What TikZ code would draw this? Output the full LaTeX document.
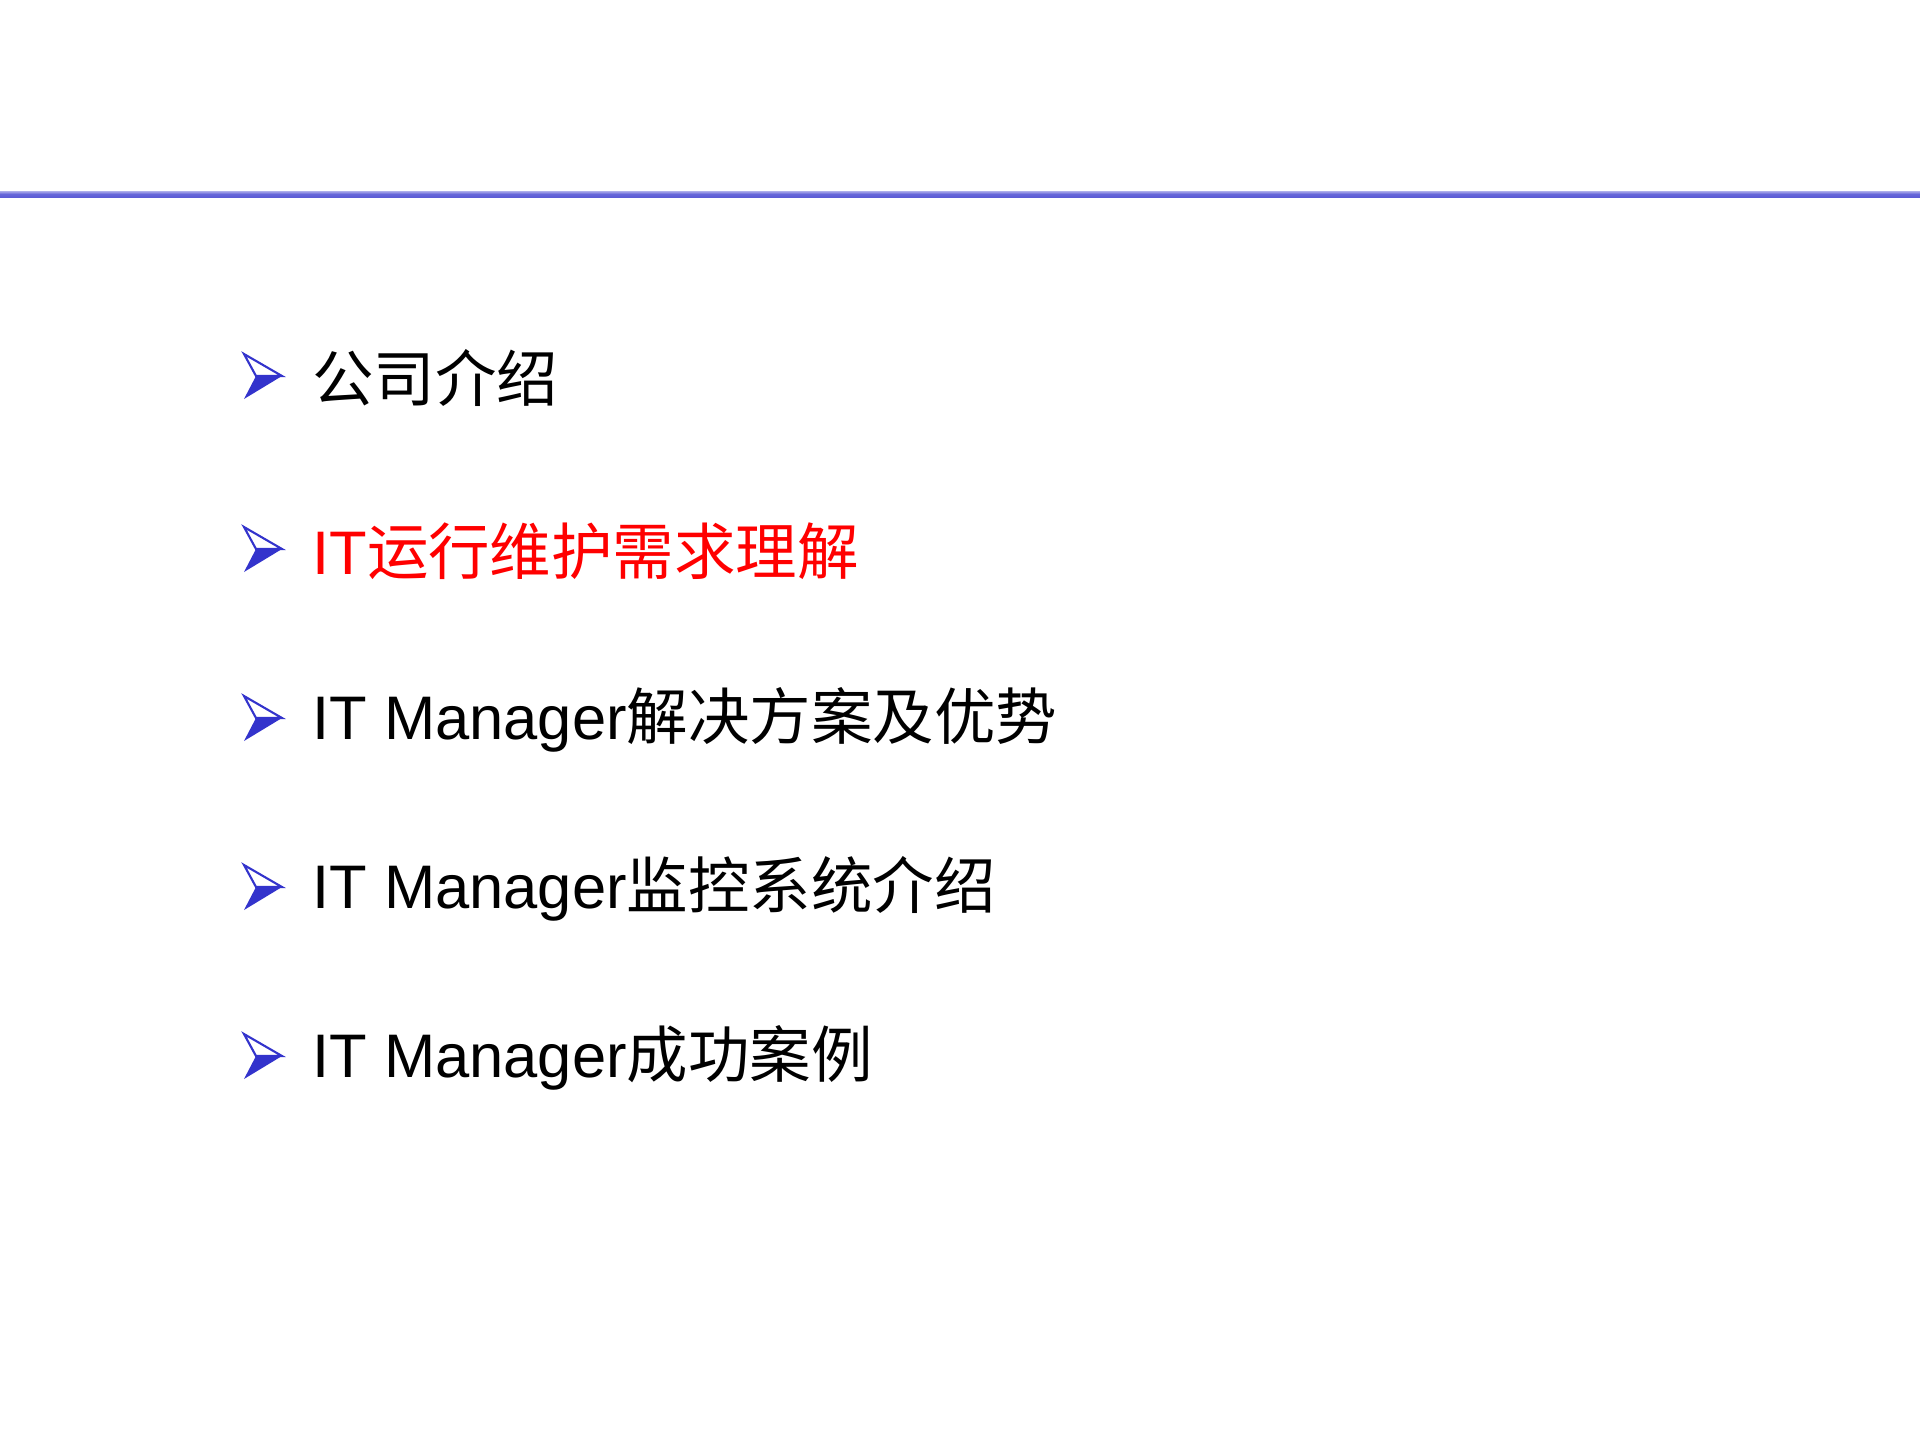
\documentclass[tikz,border=0pt]{standalone}
\usepackage{fontspec}
\setmainfont{Liberation Sans}
\newfontfamily\cjk{Noto Sans CJK SC}
\usetikzlibrary{calc}
\definecolor{bl}{HTML}{3333CC}
\begin{document}
\begin{tikzpicture}[x=0.02cm,y=-0.02cm,
  item/.style={anchor=west,inner sep=0pt,font=\fontsize{35}{40}\selectfont}]
\useasboundingbox (0,0) rectangle (1920,1440);
\fill[white] (0,0) rectangle (1920,1440);
\shade[top color=white!60!bl, bottom color=bl!80, middle color=bl!75] (0,191) rectangle (1920,197);
\foreach \y [count=\i] in {376,549,718,887,1056}{
  \coordinate (b\i) at (244,\y);
  \draw[bl,line width=1.2pt,line join=miter] ($(b\i)+(0,-22)$) -- ($(b\i)+(38,0)$) -- ($(b\i)+(12,0)$) -- cycle;
  \fill[bl] ($(b\i)+(12,0)$) -- ($(b\i)+(38,0)$) -- ($(b\i)+(0,23)$) -- cycle;
}
\node[item] (t1) at (312,378) {{\cjk 公司介绍}};
\node[item,text=red] (t2) at (312,551) {IT{\cjk 运行维护需求理解}};
\node[item] (t3) at (312,720) {IT Manager{\cjk 解决方案及优势}};
\node[item] (t4) at (312,889) {IT Manager{\cjk 监控系统介绍}};
\node[item] (t5) at (312,1058) {IT Manager{\cjk 成功案例}};
\end{tikzpicture}
\end{document}
